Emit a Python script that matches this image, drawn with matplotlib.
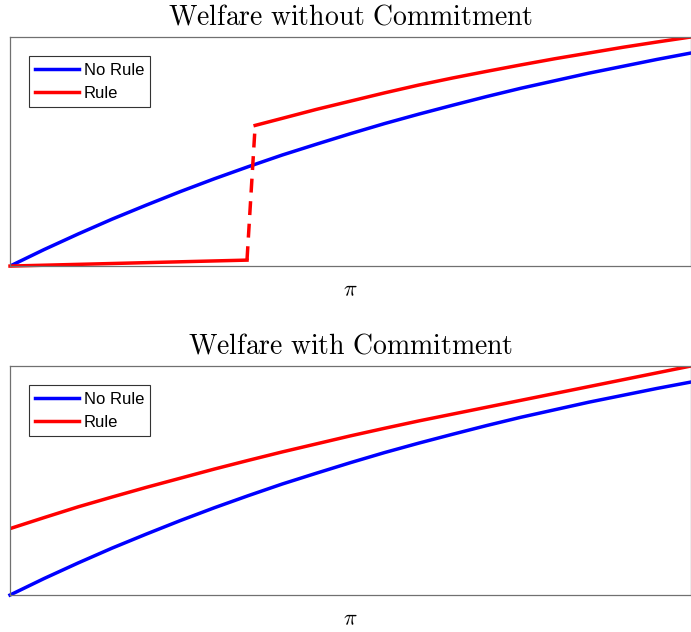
import matplotlib
matplotlib.use("Agg")
import matplotlib.pyplot as plt

plt.rcParams["mathtext.fontset"] = "cm"

# Welfare curves, x on a normalized pi grid
pi_grid = [0.0, 0.05, 0.1, 0.15, 0.2, 0.25, 0.3, 0.35, 0.4, 0.45, 0.5,
           0.55, 0.6, 0.65, 0.7, 0.75, 0.8, 0.85, 0.9, 0.95, 1.0]
no_rule = [0.0, 0.072, 0.14, 0.205, 0.266, 0.325, 0.381, 0.434, 0.485, 0.532, 0.578,
           0.622, 0.663, 0.702, 0.74, 0.776, 0.809, 0.842, 0.872, 0.902, 0.93]

# Without commitment: rule branch jumps at the threshold
rule_low_x = [0.0, 0.348]
rule_low_y = [0.0, 0.026]
rule_jump_x = [0.348, 0.36]
rule_jump_y = [0.026, 0.614]
rule_high_x = [0.36, 0.4, 0.45, 0.5, 0.55, 0.6, 0.65, 0.7, 0.75, 0.8, 0.85, 0.9, 0.95, 1.0]
rule_high_y = [0.614, 0.645, 0.684, 0.72, 0.756, 0.79, 0.821, 0.85, 0.878, 0.905, 0.93,
               0.955, 0.978, 1.0]

# With commitment
rule_commit = [0.29, 0.338, 0.385, 0.428, 0.47, 0.51, 0.55, 0.588, 0.625, 0.66, 0.695,
               0.728, 0.76, 0.79, 0.82, 0.85, 0.88, 0.91, 0.94, 0.97, 1.0]

BLUE = "#0000ff"
RED = "#ff0000"
LW = 2.5

fig = plt.figure(figsize=(6.91, 6.32), dpi=100)
ax_top = fig.add_axes([0.0145, 0.579, 0.9855, 0.3625])
ax_bot = fig.add_axes([0.0145, 0.0585, 0.9855, 0.3624])


def style_axes(ax, title):
    ax.set_xlim(0, 1)
    ax.set_ylim(0, 1)
    ax.set_xticks([])
    ax.set_yticks([])
    for spine in ax.spines.values():
        spine.set_color("#707070")
        spine.set_linewidth(0.9)
    ax.set_title(r"$\mathrm{" + title.replace(" ", r"\ ") + "}$", fontsize=20, pad=9)
    ax.set_xlabel(r"$\pi$", fontsize=16, labelpad=10)
    leg = ax.legend(loc="upper left", bbox_to_anchor=(0.028, 0.915),
                    prop={"family": "Liberation Sans", "size": 12},
                    frameon=True, fancybox=False, borderpad=0.38, labelspacing=0.5,
                    handlelength=2.6, handletextpad=0.3, borderaxespad=0.0)
    leg.get_frame().set_edgecolor("#333333")
    leg.get_frame().set_linewidth(0.8)
    leg.get_frame().set_alpha(1.0)


ax_top.plot(pi_grid, no_rule, color=BLUE, lw=LW, label="No Rule")
ax_top.plot(rule_low_x, rule_low_y, color=RED, lw=LW, label="Rule", clip_on=False)
ax_top.plot(rule_jump_x, rule_jump_y, color=RED, lw=LW, ls=(0, (4, 2.5)))
ax_top.plot(rule_high_x, rule_high_y, color=RED, lw=LW)
style_axes(ax_top, "Welfare without Commitment")

ax_bot.plot(pi_grid, no_rule, color=BLUE, lw=LW, label="No Rule", clip_on=False)
ax_bot.plot(pi_grid, rule_commit, color=RED, lw=LW, label="Rule")
style_axes(ax_bot, "Welfare with Commitment")

fig.savefig("out.png", dpi=100)
